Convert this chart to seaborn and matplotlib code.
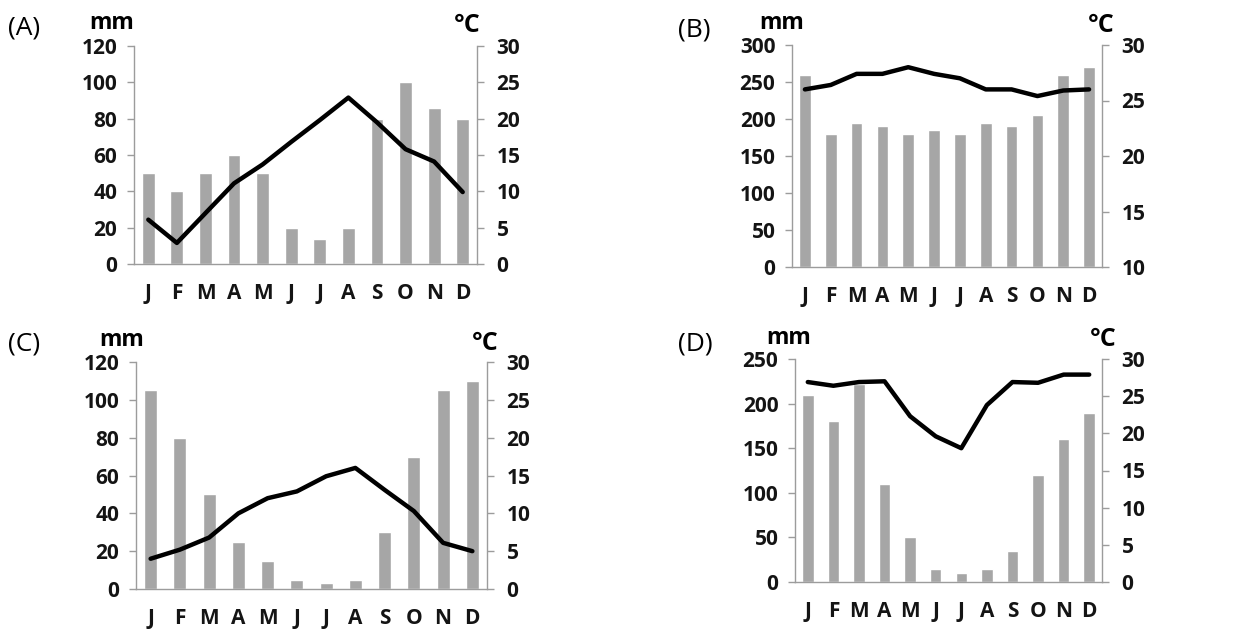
import matplotlib
matplotlib.use('Agg')
import matplotlib.pyplot as plt
import seaborn as sns

months = ['Jan', 'Feb', 'Mar', 'Apr', 'May', 'Jun', 'Jul', 'Aug', 'Sep', 'Oct', 'Nov', 'Dec']
month_letters = ['J', 'F', 'M', 'A', 'M', 'J', 'J', 'A', 'S', 'O', 'N', 'D']

# (A)
rain_a = [50, 40, 50, 60, 50, 20, 14, 20, 80, 100, 86, 80]
temp_a = [6.1, 2.9, 7.0, 11.1, 13.7, 16.8, 19.8, 22.9, 19.5, 15.8, 14.1, 9.9]
# (B)
rain_b = [260, 180, 195, 190, 180, 185, 180, 195, 190, 205, 260, 270]
temp_b = [26.0, 26.4, 27.4, 27.4, 28.0, 27.4, 27.0, 26.0, 26.0, 25.4, 25.9, 26.0]
# (C)
rain_c = [105, 80, 50, 25, 15, 5, 3, 5, 30, 70, 105, 110]
temp_c = [4.0, 5.2, 6.8, 10.0, 12.0, 12.9, 14.9, 16.0, 13.1, 10.3, 6.1, 5.0]
# (D)
rain_d = [210, 180, 222, 110, 50, 15, 10, 15, 35, 120, 160, 190]
temp_d = [26.9, 26.4, 26.9, 27.0, 22.3, 19.6, 18.0, 23.8, 26.9, 26.8, 27.9, 27.9]

sns.set_style('white')
plt.rcParams['font.family'] = ['Open Sans', 'DejaVu Sans']

BAR = '#a6a6a6'
SPINE = '#9c9c9c'
TXT = '#141414'
W, H = 1250, 630

fig = plt.figure(figsize=(12.5, 6.3), dpi=100)


def px_rect(l, r, t, b):
    return [l / W, 1 - b / H, (r - l) / W, (b - t) / H]


def climate(box, rain, temp, rmax, rstep, tmin, label, lab_xy, mm_xy, c_xy):
    ax = fig.add_axes(px_rect(*box))
    sns.barplot(x=months, y=rain, order=months, color=BAR, saturation=1,
                width=0.45, ax=ax)
    ax.set_xlim(-0.5, 11.5)
    ax.set_ylim(0, rmax)
    ax.set_yticks(range(0, rmax + 1, rstep))
    ax.set_xticks(range(12))
    ax.set_xticklabels(month_letters)
    ax.set_xticks([i - 0.5 for i in range(13)], minor=True)
    ax.set_xlabel('')
    ax.set_ylabel('')
    ax.tick_params(axis='x', which='major', length=0, pad=14)
    ax.tick_params(axis='x', which='minor', length=5, width=1, color=SPINE)
    ax.tick_params(axis='y', length=5, width=1, color=SPINE, pad=7, left=True)
    for s in ['top', 'right']:
        ax.spines[s].set_visible(False)
    for s in ['left', 'bottom']:
        ax.spines[s].set_color(SPINE)
        ax.spines[s].set_linewidth(1)

    ax2 = ax.twinx()
    sns.lineplot(x=list(range(12)), y=temp, color='black', linewidth=3.2,
                 ax=ax2, solid_joinstyle='round', solid_capstyle='round')
    ax2.set_ylim(tmin, 30)
    ax2.set_yticks(range(tmin, 31, 5))
    ax2.set_ylabel('')
    ax2.tick_params(axis='y', length=5, width=1, color=SPINE, pad=9, right=True)
    for s in ['top', 'left', 'bottom']:
        ax2.spines[s].set_visible(False)
    ax2.spines['right'].set_color(SPINE)
    ax2.spines['right'].set_linewidth(1)

    for a in (ax, ax2):
        for t in a.get_yticklabels() + a.get_xticklabels():
            t.set_fontsize(15)
            t.set_fontweight('bold')
            t.set_color(TXT)

    fig.text(lab_xy[0] / W, 1 - lab_xy[1] / H, label, fontsize=19,
             ha='left', va='center', color='black')
    fig.text(mm_xy[0] / W, 1 - mm_xy[1] / H, 'mm', fontsize=16.5,
             fontweight='bold', ha='left', va='center', color='black')
    fig.text(c_xy[0] / W, 1 - c_xy[1] / H, '°C', fontsize=18,
             fontweight='bold', ha='left', va='center', color='black')


climate((134, 477, 46, 264), rain_a, temp_a, 120, 20, 0, '(A)',
        (8, 28), (89, 23), (454, 25))
climate((792, 1102, 45, 267), rain_b, temp_b, 300, 50, 10, '(B)',
        (678, 30), (759, 23), (1088, 25))
climate((136, 487, 362, 589), rain_c, temp_c, 120, 20, 0, '(C)',
        (8, 344), (99, 340), (472, 344))
climate((795, 1102, 359, 582), rain_d, temp_d, 250, 50, 0, '(D)',
        (678, 344), (766, 338), (1090, 339))

fig.savefig('out.png', dpi=100)
